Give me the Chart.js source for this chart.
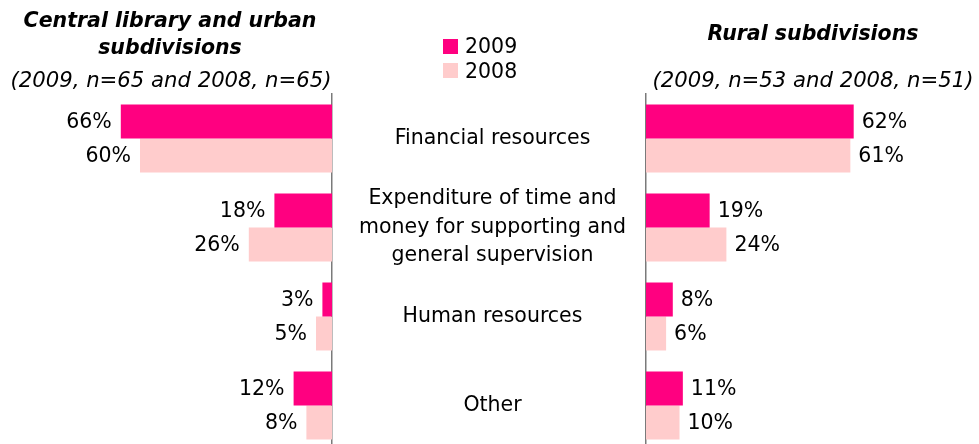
<!DOCTYPE html>
<html>
<head>
<meta charset="utf-8">
<script src="https://cdn.jsdelivr.net/npm/chart.js@4/dist/chart.umd.min.js"></script>
<style>
  html, body { margin: 0; padding: 0; background: #fff; overflow: hidden; width: 979px; height: 444px; }
  body { position: relative; font-family: "DejaVu Sans", Verdana, sans-serif; color: #000; }
  .abs { position: absolute; white-space: nowrap; }
  .title { font-weight: bold; font-style: italic; font-size: 20.5px; line-height: 27px; text-align: center; }
  .sub { font-style: italic; font-size: 21.2px; line-height: 26px; text-align: center; }
  .leg { font-size: 20.5px; line-height: 24px; }
  .box { position: absolute; width: 15px; height: 15px; }
  #leftWrap { position: absolute; left: 0; top: 0; width: 334px; height: 452px; }
  #rightWrap { position: absolute; left: 332px; top: 0; width: 649px; height: 452px; }
</style>
</head>
<body>
<div id="leftWrap"><canvas id="leftChart" width="334" height="452"></canvas></div>
<div id="rightWrap"><canvas id="rightChart" width="649" height="452"></canvas></div>

<div class="abs title" style="left:0; width:340px; top:6.5px;">Central library and urban<br>subdivisions</div>
<div class="abs sub" style="left:0; width:342px; top:67px;">(2009, n=65 and 2008, n=65)</div>
<div class="abs title" style="left:646px; width:334px; top:19.5px;">Rural subdivisions</div>
<div class="abs sub" style="left:646px; width:334px; top:67px;">(2009, n=53 and 2008, n=51)</div>

<div class="box" id="box2009" style="left:443px; top:39px;"></div>
<div class="abs leg" id="lab2009" style="left:465px; top:34px;"></div>
<div class="box" id="box2008" style="left:443px; top:63px;"></div>
<div class="abs leg" id="lab2008" style="left:465px; top:59px;"></div>

<script>
// ---- data ----
const categories = [
  'Financial resources',
  ['Expenditure of time and', 'money for supporting and', 'general supervision'],
  'Human resources',
  'Other'
];
const seriesNames = ['2009', '2008'];
const urban2009 = [66, 18, 3, 12];
const urban2008 = [60, 26, 5, 8];
const rural2009 = [62, 19, 8, 11];
const rural2008 = [61, 24, 6, 10];

// ---- styles ----
const COLOR_2009 = '#FF0080';
const COLOR_2008 = '#FFCCCC';
const FONT = '"DejaVu Sans", Verdana, sans-serif';
const FONT_SIZE = 20.5;
const AXIS_COLOR = '#7a7a7a';

document.getElementById('box2009').style.background = COLOR_2009;
document.getElementById('box2008').style.background = COLOR_2008;
document.getElementById('lab2009').textContent = seriesNames[0];
document.getElementById('lab2008').textContent = seriesNames[1];

const valueLabels = (side) => ({
  id: 'valueLabels_' + side,
  afterDatasetsDraw(chart) {
    const ctx = chart.ctx;
    ctx.save();
    ctx.font = FONT_SIZE + 'px ' + FONT;
    ctx.fillStyle = '#000';
    ctx.textBaseline = 'middle';
    ctx.textAlign = side === 'left' ? 'right' : 'left';
    chart.data.datasets.forEach((ds, di) => {
      const meta = chart.getDatasetMeta(di);
      meta.data.forEach((el, i) => {
        const v = ds.data[i];
        const x = side === 'left' ? el.x - 9 : el.x + 8;
        ctx.fillText(v + '%', x, el.y + 1);
      });
    });
    ctx.restore();
  }
});

function makeDatasets(a, b) {
  return [
    { label: seriesNames[0], data: a, backgroundColor: COLOR_2009, borderWidth: 0,
      categoryPercentage: 0.764, barPercentage: 1.0 },
    { label: seriesNames[1], data: b, backgroundColor: COLOR_2008, borderWidth: 0,
      categoryPercentage: 0.764, barPercentage: 1.0 }
  ];
}

const common = {
  indexAxis: 'y',
  responsive: false,
  animation: false,
  devicePixelRatio: 1,
  plugins: { legend: { display: false }, tooltip: { enabled: false }, title: { display: false } }
};

new Chart(document.getElementById('leftChart'), {
  type: 'bar',
  data: { labels: categories, datasets: makeDatasets(urban2009, urban2008) },
  options: Object.assign({}, common, {
    layout: { padding: { left: 12, top: 94, right: 0, bottom: 2 } },
    scales: {
      x: { display: false, reverse: true, min: 0, max: 100 },
      y: {
        position: 'right',
        grid: { display: false, drawTicks: false },
        border: { display: true, color: AXIS_COLOR, width: 1.5 },
        ticks: { display: false },
        afterFit(scale) { scale.width = 2; scale.paddingTop = 0; scale.paddingBottom = 0; }
      }
    }
  }),
  plugins: [valueLabels('left')]
});

new Chart(document.getElementById('rightChart'), {
  type: 'bar',
  data: { labels: categories, datasets: makeDatasets(rural2009, rural2008) },
  options: Object.assign({}, common, {
    layout: { padding: { left: 0, top: 94, right: 0, bottom: 2 } },
    scales: {
      x: { display: false, min: 0, max: 100 },
      y: {
        position: 'left',
        grid: { display: false, drawTicks: false },
        border: { display: true, color: AXIS_COLOR, width: 1.5 },
        ticks: {
          crossAlign: 'center',
          padding: 20,
          color: '#000',
          font: { family: FONT, size: FONT_SIZE, lineHeight: 1.39 }
        },
        afterFit(scale) { scale.width = 314; scale.paddingTop = 0; scale.paddingBottom = 0; }
      }
    }
  }),
  plugins: [valueLabels('right')]
});
</script>
</body>
</html>
